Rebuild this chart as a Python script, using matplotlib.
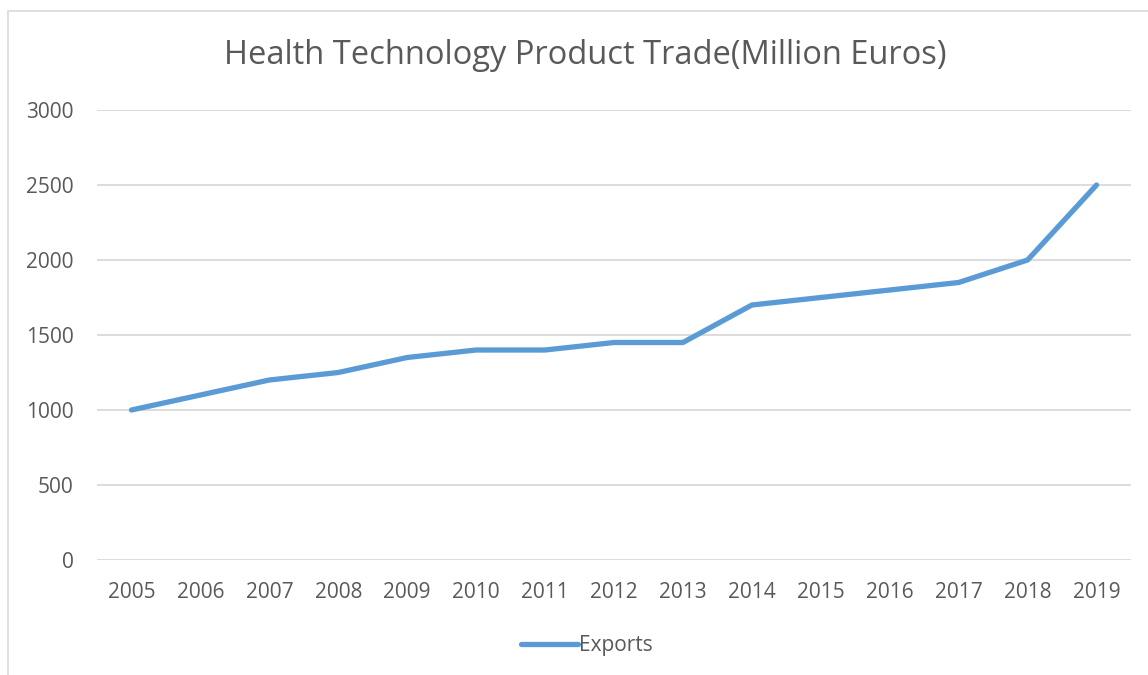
import matplotlib.pyplot as plt
from matplotlib.patches import Rectangle

years = ['2005', '2006', '2007', '2008', '2009', '2010', '2011', '2012',
         '2013', '2014', '2015', '2016', '2017', '2018', '2019']
exports = [1000, 1100, 1200, 1250, 1350, 1400, 1400, 1450,
           1450, 1700, 1750, 1800, 1850, 2000, 2500]
y_ticks = [0, 500, 1000, 1500, 2000, 2500, 3000]

plt.rcParams['font.family'] = ['Open Sans', 'DejaVu Sans']
text_color = '#595959'
grid_color = '#D9D9D9'

fig = plt.figure(figsize=(11.48, 6.75), dpi=100)
ax = fig.add_axes([97 / 1148, 1 - 560 / 675, (1131 - 97) / 1148, 450 / 675])

x = list(range(len(years)))
ax.plot(x, exports, color='#5B9BD5', linewidth=3.8, solid_capstyle='round',
        solid_joinstyle='round', label='Exports')

ax.set_xlim(-0.5, len(years) - 0.5)
ax.set_ylim(0, 3000)
ax.set_yticks(y_ticks)
ax.set_xticks(x)
ax.set_xticklabels(years)
ax.grid(axis='y', color=grid_color, linewidth=1.3)
ax.set_axisbelow(True)
for s in ax.spines.values():
    s.set_visible(False)
ax.tick_params(length=0, labelsize=15, colors=text_color)
ax.tick_params(axis='x', pad=16)
ax.tick_params(axis='y', pad=17)

fig.text(585 / 1148, 1 - 55 / 675, 'Health Technology Product Trade(Million Euros)',
         ha='center', va='center', fontsize=23.5, color=text_color)

leg = fig.legend(loc='center', bbox_to_anchor=(587 / 1148, 1 - 646 / 675), frameon=False,
                 fontsize=15, handlelength=2.7, handletextpad=0.05)
for t in leg.get_texts():
    t.set_color(text_color)

# chart border like excel
fig.patches.append(Rectangle((8 / 1148, -0.01), 1.2, 1 - 11 / 675 + 0.01,
                             transform=fig.transFigure, fill=False,
                             edgecolor=grid_color, linewidth=1.2))

fig.savefig('out.png', dpi=100)
